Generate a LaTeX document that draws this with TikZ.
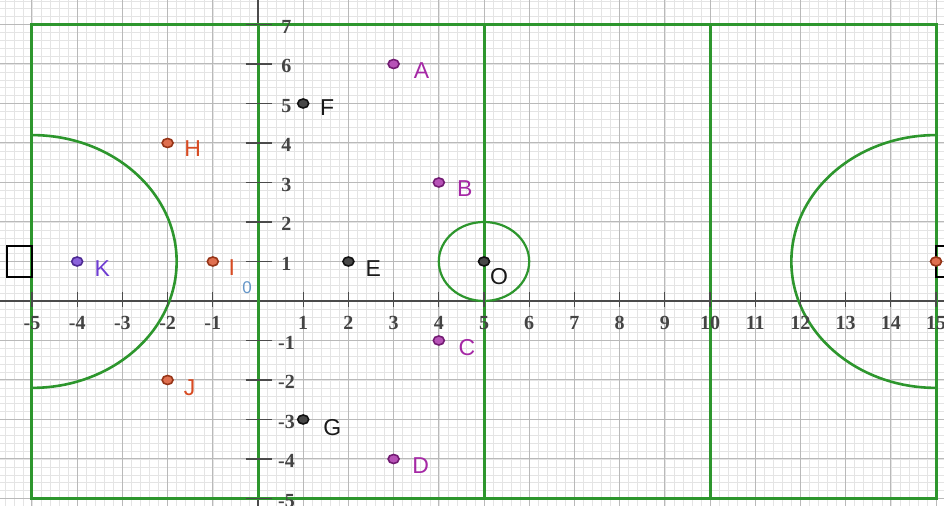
\documentclass[tikz,border=0pt]{standalone}
\usepackage{fontspec}
\newfontfamily\lbfont{Liberation Sans}
\newfontfamily\tkfont{Liberation Serif}
\usetikzlibrary{shapes.geometric}
\definecolor{fieldgreen}{RGB}{45,150,45}
\definecolor{ppurple}{RGB}{165,40,165}
\definecolor{porange}{RGB}{215,75,35}
\definecolor{pviolet}{RGB}{110,60,210}
\definecolor{pblack}{RGB}{25,25,25}
\definecolor{zeroblue}{RGB}{100,150,200}
\definecolor{axisgray}{RGB}{75,75,75}
\definecolor{majorgrid}{RGB}{185,185,185}
\definecolor{minorgrid}{RGB}{228,228,228}
\begin{document}
\begin{tikzpicture}[x=45.2pt,y=39.5pt,
  minorline/.style={minorgrid, line width=0.5pt},
  majorline/.style={majorgrid, line width=1pt},
  axisline/.style={axisgray, line width=1.3pt},
  tickline/.style={axisgray, line width=1.3pt},
  fieldline/.style={fieldgreen, line width=3pt},
  arcline/.style={fieldgreen, line width=2.6pt},
  circline/.style={fieldgreen, line width=2.2pt},
  goalbox/.style={black, line width=1.8pt},
  pt/.style={ellipse, minimum width=11pt, minimum height=9pt, inner sep=0pt, line width=1.6pt, draw=#1!70!black, fill=#1!80!white},
  lab/.style={font=\lbfont\fontsize{23}{25}\selectfont, inner sep=0pt, text=#1},
  ticklab/.style={font=\tkfont\bfseries\fontsize{20}{21}\selectfont, inner sep=0pt, text=axisgray!90!black}
]
\clip (-5.708,-5.165) rectangle (15.177,7.62);
\fill[white] (-5.708,-5.165) rectangle (15.177,7.62);
% minor grid
\foreach \i in {-29,...,76} \draw[minorline] (\i/5,-5.4) -- (\i/5,7.8);
\foreach \j in {-26,...,39} \draw[minorline] (-5.9,\j/5) -- (15.4,\j/5);
% major grid
\foreach \i in {-6,...,15} \draw[majorline] (\i,-5.4) -- (\i,7.8);
\foreach \j in {-5,...,7} \draw[majorline] (-5.9,\j) -- (15.4,\j);
% axes
\draw[axisline] (-5.9,0) -- (15.4,0);
\draw[axisline] (0,-5.4) -- (0,7.8);
% field
\draw[fieldline] (-5,-5) rectangle (15,7);
\draw[fieldline] (0,-5) -- (0,7);
\draw[fieldline] (5,-5) -- (5,7);
\draw[fieldline] (10,-5) -- (10,7);
\draw[circline] (5,1) circle [radius=1];
\draw[arcline] (-5,4.2) arc [start angle=90, end angle=-90, radius=3.2];
\draw[arcline] (15,4.2) arc [start angle=90, end angle=270, radius=3.2];
% goals
\draw[goalbox] (-5.55,0.6) rectangle (-5,1.4);
\draw[goalbox] (15,0.6) rectangle (15.6,1.4);
% ticks
\foreach \i in {-5,...,-1,1,2,...,15} {
  \draw[tickline] (\i,-0.15) -- (\i,0.22);
  \node[ticklab] at (\i,-0.56) {\i};
}
\foreach \j in {-5,...,-1,1,2,...,7} {
  \draw[tickline] (-0.27,\j) -- (0.3,\j);
  \node[ticklab] at (0.63,\j-0.06) {\j};
}
\node[font=\lbfont\fontsize{17}{18}\selectfont, text=zeroblue, inner sep=0pt] (zero) at (-0.24,0.35) {0};
% points
\node[pt=ppurple] (A) at (3,6) {};
\node[pt=ppurple] (B) at (4,3) {};
\node[pt=ppurple] (C) at (4,-1) {};
\node[pt=ppurple] (D) at (3,-4) {};
\node[pt=pblack] (E) at (2,1) {};
\node[pt=pblack] (F) at (1,5) {};
\node[pt=pblack] (G) at (1,-3) {};
\node[pt=pblack] (O) at (5,1) {};
\node[pt=porange] (H) at (-2,4) {};
\node[pt=porange] (I) at (-1,1) {};
\node[pt=porange] (J) at (-2,-2) {};
\node[pt=pviolet] (K) at (-4,1) {};
\node[pt=porange] (R) at (15,1) {};
% labels
\node[lab=ppurple] (Al) at ([shift={(28pt,-7pt)}]A.center) {A};
\node[lab=ppurple] (Bl) at ([shift={(26pt,-6pt)}]B.center) {B};
\node[lab=ppurple] (Cl) at ([shift={(28pt,-7pt)}]C.center) {C};
\node[lab=ppurple] (Dl) at ([shift={(27pt,-7pt)}]D.center) {D};
\node[lab=pblack] (El) at ([shift={(25pt,-7pt)}]E.center) {E};
\node[lab=pblack] (Fl) at ([shift={(24pt,-4pt)}]F.center) {F};
\node[lab=pblack] (Gl) at ([shift={(29pt,-8pt)}]G.center) {G};
\node[lab=pblack] (Ol) at ([shift={(15pt,-15pt)}]O.center) {O};
\node[lab=porange] (Hl) at ([shift={(25pt,-6pt)}]H.center) {H};
\node[lab=porange] (Il) at ([shift={(19pt,-6pt)}]I.center) {I};
\node[lab=porange] (Jl) at ([shift={(22pt,-8pt)}]J.center) {J};
\node[lab=pviolet] (Kl) at ([shift={(25pt,-7pt)}]K.center) {K};
\end{tikzpicture}
\end{document}
